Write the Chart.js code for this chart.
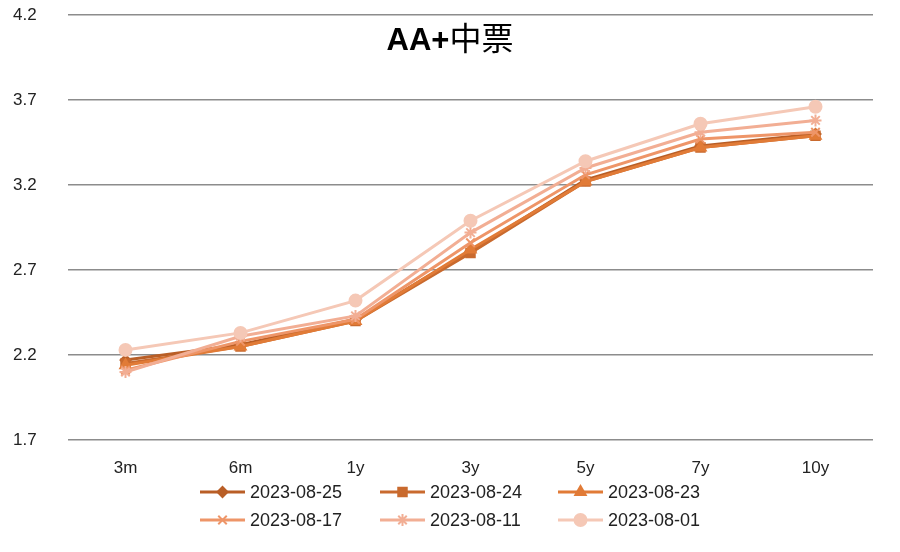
<!DOCTYPE html>
<html><head><meta charset="utf-8">
<script src="https://cdn.jsdelivr.net/npm/chart.js@4/dist/chart.umd.min.js"></script>
<style>html,body{margin:0;padding:0;background:#fff}#wrap{width:900px;height:552px}</style>
</head><body><div id="wrap"><canvas id="c" width="900" height="552"></canvas></div>
<script>
const categories = ['3m','6m','1y','3y','5y','7y','10y'];
const seriesNames = ['2023-08-25','2023-08-24','2023-08-23','2023-08-17','2023-08-11','2023-08-01'];
const s0825 = [2.17, 2.26, 2.41, 2.81, 3.23, 3.43, 3.50];
const s0824 = [2.15, 2.25, 2.40, 2.80, 3.22, 3.42, 3.49];
const s0823 = [2.14, 2.25, 2.40, 2.82, 3.22, 3.42, 3.49];
const s0817 = [2.11, 2.28, 2.41, 2.86, 3.26, 3.47, 3.51];
const s0811 = [2.10, 2.31, 2.43, 2.92, 3.30, 3.51, 3.58];
const s0801 = [2.23, 2.33, 2.52, 2.99, 3.34, 3.56, 3.66];
const yTicks = [1.7, 2.2, 2.7, 3.2, 3.7, 4.2];
const title = ['AA+', '中票'];

const colors = ['#B95E26','#C96A2E','#E17B37','#EE9568','#F2AE94','#F5C8B6'];
const styles = ['rectRot','rect','triangle','crossRot','star','circle'];
const radii = [5,6,6,6,6,6];
const values = [s0825,s0824,s0823,s0817,s0811,s0801];

const datasets = values.map((v,i)=>({
  label: seriesNames[i], data: v,
  borderColor: colors[i], backgroundColor: colors[i],
  pointStyle: styles[i], pointRadius: radii[i], pointBorderWidth: 2,
  pointBorderColor: colors[i], pointBackgroundColor: colors[i],
  borderWidth: 3, tension: 0, order: values.length - 1 - i
}));

const titlePlugin = {
  id: 'titleText',
  afterDraw(chart){
    const ctx = chart.ctx; ctx.save();
    ctx.fillStyle = '#000'; ctx.textBaseline = 'alphabetic';
    const f1 = 'bold 31px "Liberation Sans", Arial', f2 = '32px "Noto Sans CJK SC"';
    ctx.font = f1; const w1 = ctx.measureText(title[0]).width;
    ctx.font = f2; const w2 = ctx.measureText(title[1]).width;
    const x0 = 450 - (w1 + w2)/2;
    ctx.textAlign = 'left';
    ctx.font = f1; ctx.fillText(title[0], x0, 50);
    ctx.font = f2; ctx.fillText(title[1], x0 + w1, 50);
    ctx.restore();
  }
};

const legendPlugin = {
  id: 'customLegend',
  afterDraw(chart){
    const ctx = chart.ctx; ctx.save();
    const cols = [200, 380, 558], rows = [492, 520];
    chart.data.datasets.forEach((ds,i)=>{
      const x = cols[i%3], y = rows[Math.floor(i/3)];
      ctx.strokeStyle = ds.borderColor; ctx.lineWidth = 3;
      ctx.beginPath(); ctx.moveTo(x, y); ctx.lineTo(x+45, y); ctx.stroke();
      ctx.fillStyle = ds.borderColor; ctx.strokeStyle = ds.borderColor; ctx.lineWidth = 2;
      Chart.helpers.drawPoint(ctx, {pointStyle: ds.pointStyle, radius: ds.pointRadius, rotation: 0, borderWidth: 2}, x+22.5, y);
      ctx.fillStyle = '#222'; ctx.font = '18px "Liberation Sans", Arial';
      ctx.textAlign = 'left'; ctx.textBaseline = 'middle';
      ctx.fillText(ds.label, x+50, y+1);
    });
    ctx.restore();
  }
};

new Chart(document.getElementById('c'), {
  type: 'line',
  data: { labels: categories, datasets },
  options: {
    responsive: false, animation: false,
    layout: { padding: { left: 13, right: 27, top: 15, bottom: 72 } },
    plugins: { legend: { display: false }, title: { display: false }, tooltip: { enabled: false } },
    scales: {
      x: {
        offset: true,
        grid: { display: false, drawTicks: false, offset: true },
        border: { display: false },
        ticks: { color: '#222', font: { size: 17, family: '"Liberation Sans", Arial' }, padding: 18 },
        afterFit(s){ s.height = 40; }
      },
      y: {
        min: 1.7, max: 4.2,
        afterBuildTicks(s){ s.ticks = yTicks.map(v=>({value:v})); },
        grid: { color: '#8c8c8c', lineWidth: 1.5, drawTicks: false },
        border: { display: false },
        ticks: { color: '#222', font: { size: 17, family: '"Liberation Sans", Arial' }, crossAlign: 'far', padding: 0,
          callback: v => Number(v).toFixed(1) },
        afterFit(s){ s.width = 55; }
      }
    }
  },
  plugins: [titlePlugin, legendPlugin]
});
</script></body></html>
